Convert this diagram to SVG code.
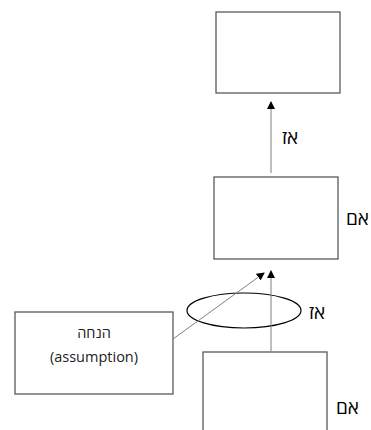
<svg xmlns="http://www.w3.org/2000/svg" width="371" height="430" viewBox="0 0 371 430">
<style>
.box{fill:#fff;stroke:#595959;stroke-width:1.3}
.lbl{font-family:"Open Sans","Noto Sans","DejaVu Sans",sans-serif;font-size:19px;fill:#000}
.t{font-family:"Open Sans","Noto Sans","DejaVu Sans",sans-serif;font-size:14.5px;fill:#222}
.con{stroke:#7f7f7f;stroke-width:1;fill:none}
</style>
<defs>
<marker id="ah" markerWidth="8" markerHeight="8" refX="7" refY="4" orient="auto" markerUnits="userSpaceOnUse">
<path d="M0,0 L8,4 L0,8 Z" fill="#000"/>
</marker>
</defs>
<rect width="371" height="430" fill="#fff"/>
<g id="top"><rect class="box" x="216" y="12" width="124" height="81"/></g>
<g id="middle"><rect class="box" x="214" y="177" width="124" height="82"/>
<text class="lbl" x="346" y="225">אם</text></g>
<g id="bottom"><rect class="box" x="203" y="352" width="124" height="90"/>
<text class="lbl" x="336" y="414">אם</text></g>
<g id="assumption"><rect class="box" x="15" y="312" width="158" height="82"/>
<text class="t" x="94" y="338" text-anchor="middle">הנחה</text>
<text class="t" x="94" y="362" text-anchor="middle">(assumption)</text></g>
<g id="ellipse"><ellipse cx="244" cy="310.5" rx="57" ry="17.5" fill="none" stroke="#000" stroke-width="1.2"/>
<text class="lbl" x="309" y="319">אז</text></g>
<g id="connectors">
<line class="con" x1="271" y1="173" x2="271" y2="102" marker-end="url(#ah)"/>
<line class="con" x1="271" y1="352" x2="271" y2="271" marker-end="url(#ah)"/>
<line class="con" x1="173" y1="339" x2="264" y2="273" marker-end="url(#ah)"/>
</g>
<text class="lbl" x="282" y="144">אז</text>
</svg>
